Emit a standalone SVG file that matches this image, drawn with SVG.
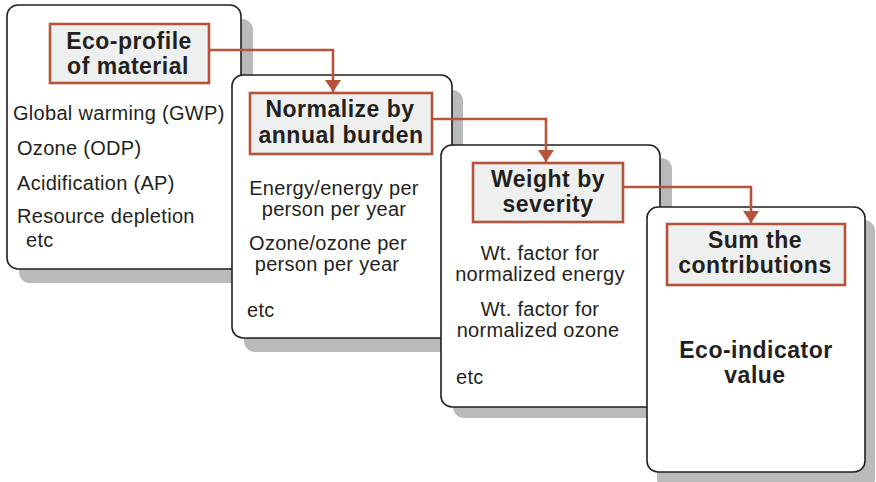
<svg xmlns="http://www.w3.org/2000/svg" width="876" height="482" viewBox="0 0 876 482">
<defs>
<style>
.shadow{fill:#b9babc;}
.card{fill:#ffffff;stroke:#231f20;stroke-width:1.6;}
.label{fill:#eef0ef;stroke:#b5533c;stroke-width:2.6;}
.h{font-family:"Liberation Sans",Arial,sans-serif;font-weight:bold;font-size:23px;letter-spacing:0.5px;fill:#231f20;text-anchor:middle;}
.t{font-family:"Liberation Sans",Arial,sans-serif;font-size:20px;letter-spacing:0.3px;fill:#231f20;}
.c{text-anchor:middle;}
.conn{fill:none;stroke:#b5533c;stroke-width:2.6;}
</style>
<marker id="arr" viewBox="0 0 12 16" refX="12" refY="8" markerWidth="12" markerHeight="16" markerUnits="userSpaceOnUse" orient="auto">
<path d="M0,0 L12,8 L0,16 Z" fill="#b5533c"/>
</marker>
</defs>
<rect width="876" height="482" fill="#ffffff"/>

<g id="card1">
<rect class="shadow" x="19" y="19" width="234" height="264" rx="11"/>
<rect class="card" x="7" y="5" width="234" height="264" rx="11"/>
<rect class="label" x="50" y="24" width="159" height="59"/>
<text class="h" x="129" y="49">Eco-profile</text>
<text class="h" x="128" y="74">of material</text>
<text class="t" x="13" y="120">Global warming (GWP)</text>
<text class="t" x="17" y="155">Ozone (ODP)</text>
<text class="t" x="17" y="190">Acidification (AP)</text>
<text class="t" x="17" y="223">Resource depletion</text>
<text class="t" x="26" y="247">etc</text>
</g>

<g id="card2">
<rect class="shadow" x="244" y="90" width="219" height="262" rx="11"/>
<rect class="card" x="232" y="75" width="220" height="263" rx="11"/>
<rect class="label" x="250" y="93" width="182" height="61"/>
<text class="h" x="340" y="117">Normalize by</text>
<text class="h" x="341" y="143">annual burden</text>
<text class="t c" x="334" y="195">Energy/energy per</text>
<text class="t c" x="334" y="216">person per year</text>
<text class="t c" x="328" y="250">Ozone/ozone per</text>
<text class="t c" x="327" y="271">person per year</text>
<text class="t" x="247" y="317">etc</text>
</g>

<g id="card3">
<rect class="shadow" x="453" y="158" width="219" height="260" rx="11"/>
<rect class="card" x="441" y="145" width="219" height="262" rx="11"/>
<rect class="label" x="473" y="163" width="150" height="59"/>
<text class="h" x="548" y="187">Weight by</text>
<text class="h" x="548" y="212">severity</text>
<text class="t c" x="540" y="260">Wt. factor for</text>
<text class="t c" x="540" y="281">normalized energy</text>
<text class="t c" x="540" y="316">Wt. factor for</text>
<text class="t c" x="538" y="337">normalized ozone</text>
<text class="t" x="456" y="384">etc</text>
</g>

<g id="card4">
<rect class="shadow" x="657" y="220" width="218" height="270" rx="11"/>
<rect class="card" x="647" y="207" width="218" height="265" rx="11"/>
<rect class="label" x="667" y="224" width="178" height="61"/>
<text class="h" x="755" y="248">Sum the</text>
<text class="h" x="755" y="273">contributions</text>
<text class="h" x="756" y="358">Eco-indicator</text>
<text class="h" x="755" y="383">value</text>
</g>

<g id="connectors">
<path class="conn" d="M209,50 H333 V92" marker-end="url(#arr)"/>
<path class="conn" d="M432,119 H546 V162" marker-end="url(#arr)"/>
<path class="conn" d="M623,187 H751 V223" marker-end="url(#arr)"/>
</g>
</svg>
